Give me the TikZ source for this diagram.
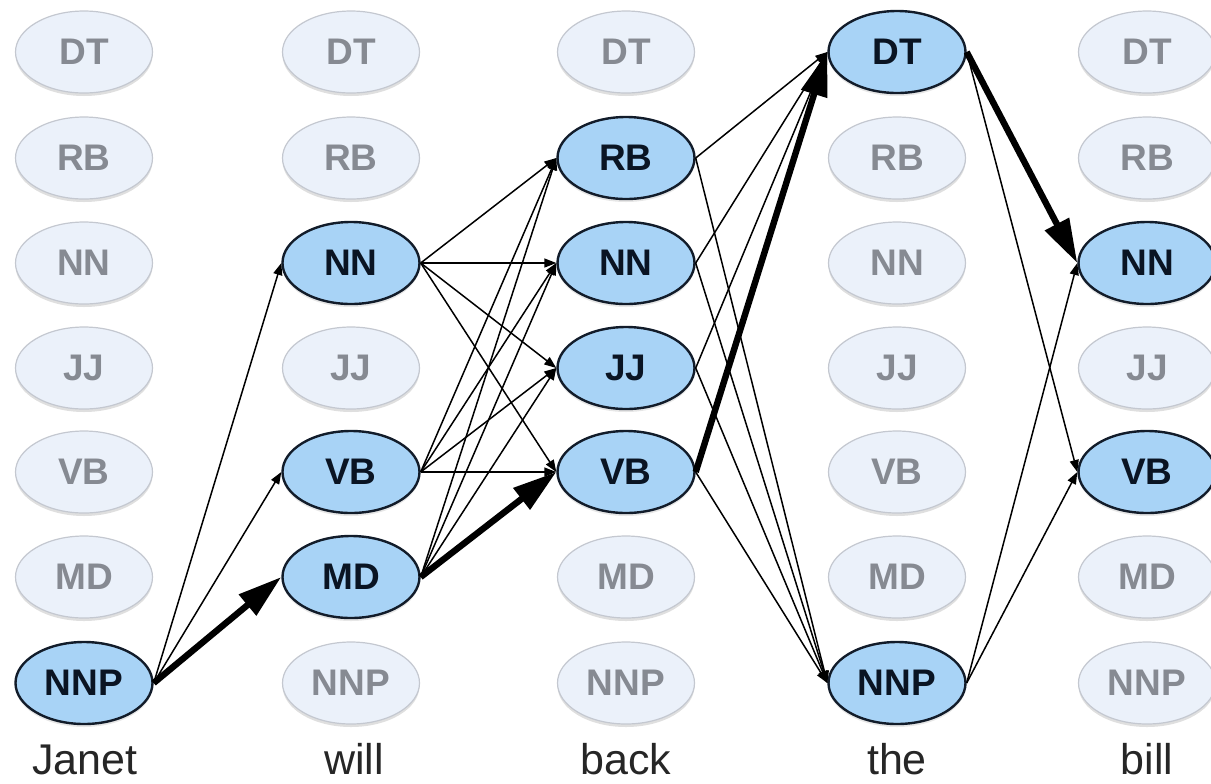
\documentclass[tikz,border=0pt]{standalone}
\usepackage{fontspec}
\setmainfont{Liberation Sans}
\usetikzlibrary{shapes.geometric,arrows.meta,shadows}
\definecolor{actfill}{RGB}{168,211,246}
\definecolor{actdraw}{RGB}{18,28,42}
\definecolor{actext}{RGB}{10,20,35}
\definecolor{inafill}{RGB}{235,241,250}
\definecolor{inadraw}{RGB}{196,200,208}
\definecolor{inatext}{RGB}{134,138,146}
\begin{document}
\begin{tikzpicture}[x=0.5pt,y=-0.5pt,
  tagbase/.style={ellipse,inner sep=0pt,minimum width=68.5pt,minimum height=41pt,
    font=\fontsize{18.5}{20}\selectfont\bfseries},
  inact/.style={tagbase,fill=inafill,draw=inadraw,line width=0.6pt,text=inatext,
    drop shadow={opacity=0.25,shadow xshift=0pt,shadow yshift=-1.5pt}},
  act/.style={tagbase,fill=actfill,draw=actdraw,line width=1.2pt,text=actext,
    drop shadow={opacity=0.2,shadow xshift=0pt,shadow yshift=-1.5pt}},
  word/.style={anchor=base,font=\fontsize{21.5}{24}\selectfont,text=black!85},
  thinarr/.style={-{Triangle[length=6pt,width=4.5pt]},line width=0.75pt,black},
  thickarr/.style={-{Triangle[length=22pt,width=13pt]},line width=3.2pt,black}]
\useasboundingbox (0,0) rectangle (1211,783);
% column 1: Janet
\foreach \t/\y in {DT/52,RB/158,NN/263,JJ/368,VB/472,MD/577}
  \node[inact] (c1\t) at (84,\y) {\t};
\node[act] (c1NNP) at (84,683) {NNP};
% column 2: will
\foreach \t/\y in {DT/52,RB/158,JJ/368,NNP/683}
  \node[inact] (c2\t) at (351,\y) {\t};
\foreach \t/\y in {NN/263,VB/472,MD/577}
  \node[act] (c2\t) at (351,\y) {\t};
% column 3: back
\foreach \t/\y in {DT/52,MD/577,NNP/683}
  \node[inact] (c3\t) at (626,\y) {\t};
\foreach \t/\y in {RB/158,NN/263,JJ/368,VB/472}
  \node[act] (c3\t) at (626,\y) {\t};
% column 4: the
\foreach \t/\y in {RB/158,NN/263,JJ/368,VB/472,MD/577}
  \node[inact] (c4\t) at (897,\y) {\t};
\foreach \t/\y in {DT/52,NNP/683}
  \node[act] (c4\t) at (897,\y) {\t};
% column 5: bill
\foreach \t/\y in {DT/52,RB/158,JJ/368,MD/577,NNP/683}
  \node[inact] (c5\t) at (1147,\y) {\t};
\foreach \t/\y in {NN/263,VB/472}
  \node[act] (c5\t) at (1147,\y) {\t};
% words
\node[word] (w1) at (85,774) {Janet};
\node[word] (w2) at (354,774) {will};
\node[word] (w3) at (626,774) {back};
\node[word] (w4) at (897,774) {the};
\node[word] (w5) at (1147,774) {bill};
% edges Janet -> will
\draw[thinarr] (c1NNP.east) -- (c2NN.west);
\draw[thinarr] (c1NNP.east) -- (c2VB.west);
\draw[thickarr] (c1NNP.east) -- (c2MD.west);
% will -> back
\foreach \s in {NN,VB,MD}
  \foreach \d in {RB,NN,JJ,VB}
    {\ifnum\pdfstrcmp{\s\d}{MDVB}=0\relax\else
      \draw[thinarr] (c2\s.east) -- (c3\d.west);\fi}
\draw[thickarr] (c2MD.east) -- (c3VB.west);
% back -> the
\foreach \s in {RB,NN,JJ,VB}
  \foreach \d in {DT,NNP}
    {\ifnum\pdfstrcmp{\s\d}{VBDT}=0\relax\else
      \draw[thinarr] (c3\s.east) -- (c4\d.west);\fi}
\draw[thickarr] (c3VB.east) -- (c4DT.west);
% the -> bill
\draw[thinarr] (c4DT.east) -- (c5VB.west);
\draw[thinarr] (c4NNP.east) -- (c5NN.west);
\draw[thinarr] (c4NNP.east) -- (c5VB.west);
\draw[thickarr] (c4DT.east) -- (c5NN.west);
\end{tikzpicture}
\end{document}
